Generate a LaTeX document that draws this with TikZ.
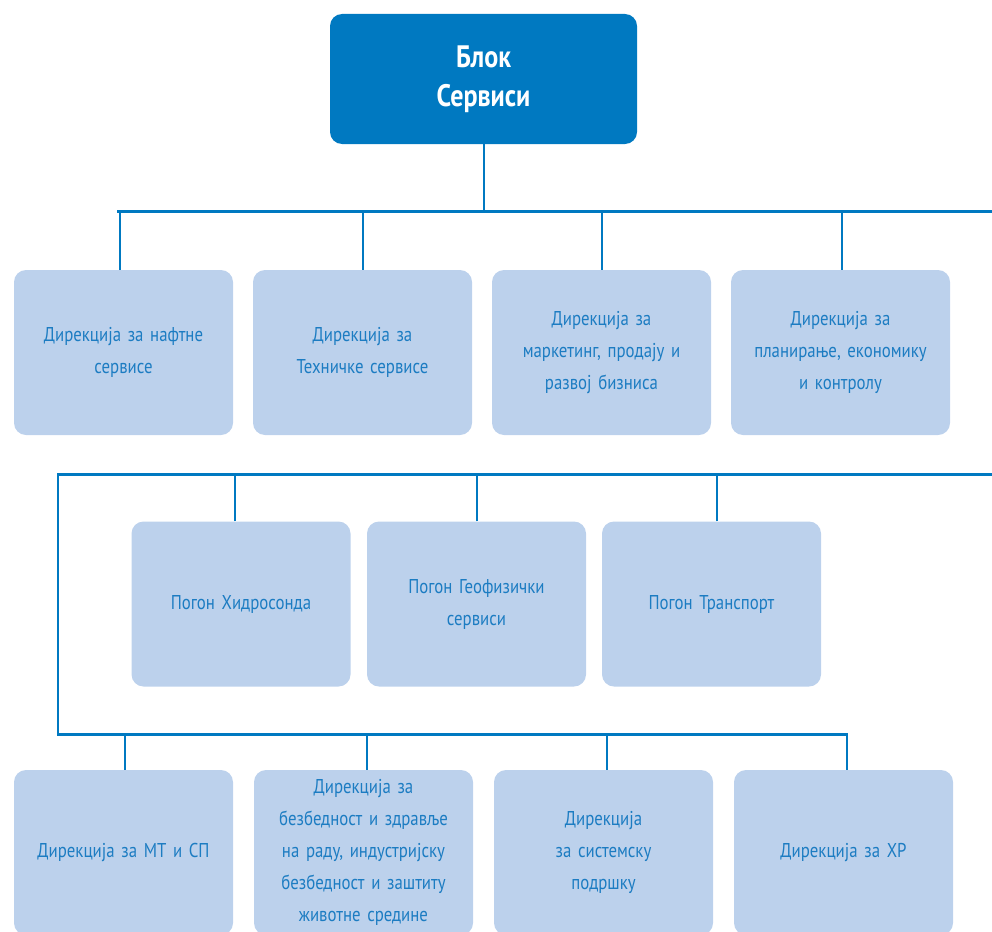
\documentclass[tikz,border=0pt]{standalone}
\usepackage{fontspec}
\setmainfont{PT Sans}[FakeStretch=0.84,WordSpace=0.6]
\usepackage{tikz}
\usetikzlibrary{positioning}

\definecolor{blokblue}{HTML}{0079C1}
\definecolor{unitfill}{HTML}{BCD1EC}
\definecolor{unittext}{HTML}{1C7CC2}

\begin{document}
\begin{tikzpicture}%
        [x=1pt,
        y=-1pt,
        head/.style={fill=blokblue, rounded corners=12pt, minimum width=307pt, minimum height=130pt,
                     inner sep=0pt, align=center, text=white, font=\fontsize{31}{39}\selectfont\bfseries},
        unit/.style={fill=unitfill, rounded corners=12pt, minimum width=219pt, minimum height=165pt,
                     inner sep=0pt, text width=205pt, align=center, text=unittext,
                     font=\fontsize{20}{32}\selectfont},
        bus/.style={draw=blokblue, line width=3pt},
        drop/.style={draw=blokblue, line width=2pt}]

    \clip (0,0) rectangle (992,931);

    %% Top block
    \node[head] (blok) at (483.5,79) {Блок\\Сервиси};

    %% First row
    \node[unit] (naft)  at (123.5,352.5) {Дирекција за нафтне\\сервисе};
    \node[unit] (tehn)  at (362.5,352.5) {Дирекција за\\Техничке сервисе};
    \node[unit] (mark)  at (601.5,352.5) {Дирекција за\\маркетинг, продају и\\развој бизниса};
    \node[unit] (plan)  at (840.5,352.5) {Дирекција за\\планирање, економику\\и контролу};

    %% Second row
    \node[unit] (hidro) at (241,604)   {Погон Хидросонда};
    \node[unit] (geo)   at (476.5,604) {Погон Геофизички\\сервиси};
    \node[unit] (trans) at (711.5,604) {Погон Транспорт};

    %% Third row
    \node[unit] (mtsp)  at (123.5,852.5) {Дирекција за МТ и СП};
    \node[unit] (bezb)  at (363.5,852.5) {Дирекција за\\безбедност и здравље\\на раду, индустријску\\безбедност и заштиту\\животне средине};
    \node[unit] (sist)  at (603.5,852.5) {Дирекција\\за системску\\подршку};
    \node[unit] (hr)    at (843.5,852.5) {Дирекција за ХР};

    %% Bus lines
    \coordinate (busA) at (117,211);
    \coordinate (busAend) at (992,211);
    \coordinate (busB) at (57,474);
    \coordinate (busBend) at (992,474);
    \coordinate (busC) at (57,734);
    \coordinate (busCend) at (848,734);

    \draw[bus] (busA) -- (busAend);
    \draw[bus] (busB) -- (busBend);
    \draw[bus] (busC) -- (busCend);
    \draw[drop] ([xshift=1pt]busB) -- ([xshift=1pt]busC);

    %% Drops
    \draw[drop] (blok.south) -- (blok.south |- busA);
    \foreach \u/\d in {naft/-3.5,tehn/0,mark/0.5,plan/1.5}
        \draw[drop] ([xshift=\d pt]\u.north) -- ([xshift=\d pt]\u.north |- busA);
    \foreach \u/\d in {hidro/-6,geo/0.5,trans/5.5}
        \draw[drop] ([xshift=\d pt]\u.north) -- ([xshift=\d pt]\u.north |- busB);
    \foreach \u/\d in {mtsp/1.5,bezb/3.5,sist/3.5,hr/3.5}
        \draw[drop] ([xshift=\d pt]\u.north) -- ([xshift=\d pt]\u.north |- busC);
\end{tikzpicture}
\end{document}
